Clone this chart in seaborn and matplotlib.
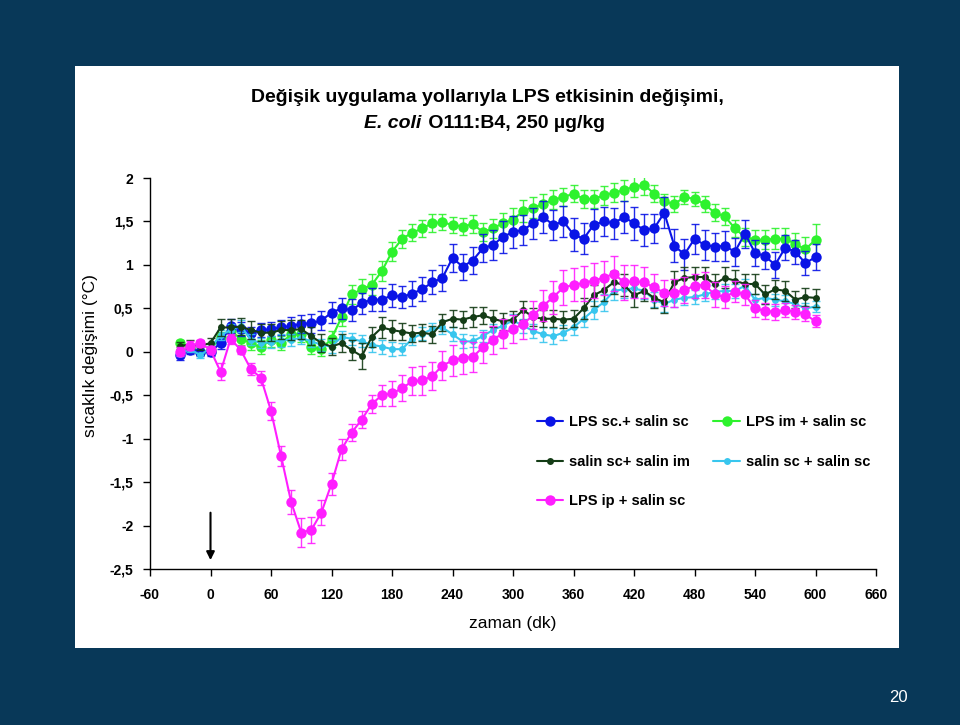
import numpy as np
import pandas as pd
import matplotlib
matplotlib.use("Agg")
import matplotlib.pyplot as plt
from matplotlib.patches import Rectangle
import seaborn as sns

sns.set_style("ticks")
plt.rcParams['font.family'] = ['Liberation Sans', 'DejaVu Sans']
plt.rcParams['text.color'] = 'black'
plt.rcParams['axes.labelcolor'] = 'black'
plt.rcParams['axes.unicode_minus'] = False

# sampling times (min)
zaman = list(range(-30, 610, 10))

# LPS sc.+ salin sc
lps_sc = [-0.04, 0.02, 0.0, 0.0, 0.1, 0.3, 0.26, 0.22,
          0.25, 0.26, 0.28, 0.3, 0.32, 0.33, 0.36, 0.45,
          0.5, 0.48, 0.56, 0.6, 0.6, 0.65, 0.63, 0.67,
          0.72, 0.8, 0.85, 1.08, 0.98, 1.05, 1.19, 1.23,
          1.32, 1.38, 1.4, 1.48, 1.55, 1.46, 1.5, 1.35,
          1.3, 1.46, 1.5, 1.48, 1.55, 1.48, 1.4, 1.42,
          1.6, 1.22, 1.12, 1.3, 1.23, 1.21, 1.22, 1.15,
          1.36, 1.14, 1.1, 1.0, 1.2, 1.15, 1.02, 1.09]
lps_sc_err = [0.05, 0.05, 0.05, 0.05, 0.07, 0.08, 0.08, 0.07,
              0.08, 0.08, 0.09, 0.1, 0.1, 0.11, 0.11, 0.12,
              0.12, 0.13, 0.12, 0.13, 0.13, 0.13, 0.13, 0.14,
              0.14, 0.14, 0.15, 0.16, 0.15, 0.16, 0.16, 0.17,
              0.18, 0.18, 0.17, 0.18, 0.18, 0.17, 0.18, 0.19,
              0.18, 0.18, 0.17, 0.18, 0.18, 0.19, 0.18, 0.17,
              0.18, 0.19, 0.18, 0.17, 0.17, 0.16, 0.17, 0.16,
              0.16, 0.15, 0.15, 0.15, 0.14, 0.14, 0.14, 0.15]

# LPS im + salin sc
lps_im = [0.1, 0.05, 0.0, 0.02, 0.17, 0.24, 0.15, 0.1,
          0.05, 0.14, 0.1, 0.2, 0.2, 0.05, 0.03, 0.15,
          0.4, 0.66, 0.72, 0.77, 0.93, 1.15, 1.3, 1.37,
          1.42, 1.48, 1.49, 1.46, 1.44, 1.47, 1.38, 1.42,
          1.48, 1.52, 1.62, 1.66, 1.7, 1.75, 1.78, 1.82,
          1.76, 1.76, 1.8, 1.83, 1.86, 1.9, 1.92, 1.82,
          1.73, 1.7, 1.78, 1.76, 1.7, 1.6, 1.56, 1.42,
          1.32, 1.29, 1.29, 1.3, 1.3, 1.24, 1.18, 1.29]
lps_im_err = [0.04, 0.04, 0.04, 0.05, 0.06, 0.07, 0.07, 0.08,
              0.08, 0.08, 0.08, 0.08, 0.09, 0.08, 0.08, 0.09,
              0.1, 0.11, 0.12, 0.12, 0.12, 0.11, 0.1, 0.1,
              0.1, 0.1, 0.09, 0.09, 0.1, 0.1, 0.1, 0.11,
              0.12, 0.13, 0.13, 0.12, 0.12, 0.11, 0.1, 0.1,
              0.1, 0.1, 0.11, 0.11, 0.12, 0.12, 0.12, 0.1,
              0.09, 0.09, 0.08, 0.08, 0.09, 0.1, 0.1, 0.1,
              0.1, 0.11, 0.11, 0.12, 0.12, 0.13, 0.14, 0.18]

# salin sc+ salin im
salin_im = [0.07, 0.08, 0.07, 0.1, 0.28, 0.28, 0.29, 0.25,
            0.22, 0.22, 0.25, 0.25, 0.26, 0.18, 0.1, 0.06,
            0.1, 0.02, -0.05, 0.17, 0.28, 0.25, 0.23, 0.21,
            0.22, 0.2, 0.34, 0.38, 0.37, 0.4, 0.42, 0.38,
            0.35, 0.37, 0.48, 0.4, 0.38, 0.38, 0.37, 0.38,
            0.5, 0.65, 0.71, 0.8, 0.77, 0.65, 0.7, 0.62,
            0.57, 0.8, 0.85, 0.86, 0.86, 0.78, 0.85, 0.82,
            0.78, 0.78, 0.66, 0.72, 0.7, 0.6, 0.63, 0.62]
salin_im_err = [0.04, 0.05, 0.05, 0.06, 0.1, 0.1, 0.1, 0.1,
                0.1, 0.1, 0.1, 0.11, 0.11, 0.1, 0.1, 0.1,
                0.1, 0.12, 0.15, 0.12, 0.12, 0.11, 0.1, 0.1,
                0.1, 0.1, 0.1, 0.1, 0.1, 0.11, 0.1, 0.1,
                0.1, 0.1, 0.11, 0.1, 0.1, 0.1, 0.1, 0.1,
                0.12, 0.12, 0.12, 0.13, 0.13, 0.13, 0.12, 0.12,
                0.12, 0.13, 0.13, 0.12, 0.12, 0.12, 0.12, 0.12,
                0.12, 0.12, 0.11, 0.11, 0.11, 0.1, 0.1, 0.1]

# salin sc + salin sc
salin_sc = [-0.02, 0.03, -0.04, 0.05, 0.19, 0.25, 0.3, 0.14,
            0.1, 0.11, 0.13, 0.14, 0.16, 0.12, 0.08, 0.06,
            0.17, 0.15, 0.12, 0.08, 0.06, 0.03, 0.03, 0.15,
            0.21, 0.26, 0.28, 0.2, 0.12, 0.12, 0.18, 0.25,
            0.3, 0.36, 0.3, 0.24, 0.2, 0.18, 0.22, 0.28,
            0.38, 0.48, 0.57, 0.7, 0.72, 0.73, 0.7, 0.6,
            0.55, 0.6, 0.62, 0.63, 0.66, 0.69, 0.7, 0.7,
            0.76, 0.6, 0.62, 0.6, 0.58, 0.55, 0.5, 0.52]
salin_sc_err = [0.03, 0.03, 0.03, 0.04, 0.06, 0.07, 0.07, 0.06,
                0.06, 0.07, 0.07, 0.07, 0.07, 0.07, 0.07, 0.07,
                0.07, 0.07, 0.07, 0.08, 0.08, 0.08, 0.07, 0.07,
                0.07, 0.07, 0.08, 0.08, 0.08, 0.07, 0.07, 0.07,
                0.07, 0.08, 0.08, 0.08, 0.09, 0.09, 0.09, 0.09,
                0.1, 0.1, 0.1, 0.1, 0.1, 0.1, 0.09, 0.09,
                0.09, 0.08, 0.08, 0.08, 0.08, 0.08, 0.08, 0.08,
                0.08, 0.07, 0.07, 0.07, 0.07, 0.06, 0.06, 0.06]

# LPS ip + salin sc
lps_ip = [0.0, 0.07, 0.1, 0.02, -0.23, 0.15, 0.02, -0.2,
          -0.3, -0.68, -1.2, -1.73, -2.08, -2.05, -1.85, -1.52,
          -1.12, -0.93, -0.78, -0.6, -0.5, -0.48, -0.42, -0.34,
          -0.33, -0.28, -0.16, -0.1, -0.07, -0.06, 0.05, 0.14,
          0.21, 0.26, 0.32, 0.42, 0.53, 0.63, 0.74, 0.77,
          0.79, 0.82, 0.85, 0.9, 0.8, 0.81, 0.8, 0.74,
          0.68, 0.68, 0.71, 0.76, 0.77, 0.66, 0.63, 0.69,
          0.66, 0.5, 0.47, 0.46, 0.48, 0.46, 0.43, 0.35]
lps_ip_err = [0.05, 0.05, 0.04, 0.05, 0.1, 0.06, 0.05, 0.07,
              0.08, 0.1, 0.12, 0.14, 0.17, 0.15, 0.14, 0.13,
              0.12, 0.1, 0.1, 0.1, 0.12, 0.14, 0.15, 0.16,
              0.17, 0.16, 0.17, 0.18, 0.19, 0.17, 0.18, 0.16,
              0.17, 0.16, 0.17, 0.16, 0.18, 0.19, 0.2, 0.19,
              0.2, 0.2, 0.2, 0.2, 0.2, 0.19, 0.18, 0.16,
              0.15, 0.16, 0.15, 0.14, 0.15, 0.14, 0.13, 0.12,
              0.12, 0.1, 0.09, 0.09, 0.08, 0.08, 0.08, 0.07]

# name, values, errors, colour, marker size
series = [
    ("LPS im + salin sc", lps_im, lps_im_err, "#2EF22E", 7.5),
    ("LPS sc.+ salin sc", lps_sc, lps_sc_err, "#0A14E6", 7.5),
    ("salin sc + salin sc", salin_sc, salin_sc_err, "#38C6EE", 5),
    ("salin sc+ salin im", salin_im, salin_im_err, "#143C16", 5),
    ("LPS ip + salin sc", lps_ip, lps_ip_err, "#FF1EFF", 7.5),
]

fig = plt.figure(figsize=(9.6, 7.25), dpi=100, facecolor="#083858")
# white slide panel, behind everything
fig.patches.append(Rectangle((75 / 960, 1 - 648 / 725), 824 / 960, 582 / 725,
                             transform=fig.transFigure, facecolor="white",
                             edgecolor="none", zorder=-10))

ax = fig.add_axes([150 / 960, 1 - 569 / 725, 726 / 960, 391 / 725])
ax.set_facecolor("white")
ax.set_zorder(1)

for name, vals, errs, col, ms in series:
    ax.errorbar(zaman, vals, yerr=errs, fmt="none", ecolor=col,
                elinewidth=1.0, capsize=3, capthick=1.0, alpha=0.9)
    df = pd.DataFrame({"zaman": zaman, "deger": vals})
    sns.lineplot(data=df, x="zaman", y="deger", ax=ax, color=col,
                 marker="o", markersize=ms, markeredgewidth=0,
                 linewidth=1.5, label=name)

ax.set_xlim(-60, 660)
ax.set_ylim(-2.5, 2)
ax.set_xticks(range(-60, 661, 60))
ax.set_yticks(np.arange(-2.5, 2.01, 0.5))
ax.set_yticklabels([("%g" % v).replace(".", ",") for v in np.arange(-2.5, 2.01, 0.5)])
ax.tick_params(direction="out", length=5, width=1, labelsize=10,
               colors="black")
ax.tick_params(axis="x", pad=9)
ax.tick_params(axis="y", pad=7)
for lab in ax.get_xticklabels() + ax.get_yticklabels():
    lab.set_fontweight("bold")
sns.despine(ax=ax)
for s in ["left", "bottom"]:
    ax.spines[s].set_color("black")
    ax.spines[s].set_linewidth(1)

ax.set_xlabel("zaman (dk)", fontsize=12.5, labelpad=10)
ax.set_ylabel("sıcaklık değişimi (°C)", fontsize=12.5)
ax.yaxis.set_label_coords(-0.072, 0.547)

# injection arrow
ax.annotate("", xy=(0, -2.43), xytext=(0, -1.82),
            arrowprops=dict(arrowstyle="-|>", color="black", lw=1.5, mutation_scale=12))

# legend: column 1 blue/darkgreen/magenta, column 2 green/cyan
h, l = ax.get_legend_handles_labels()
lookup = dict(zip(l, h))
order = ["LPS sc.+ salin sc", "salin sc+ salin im", "LPS ip + salin sc",
         "LPS im + salin sc", "salin sc + salin sc"]
leg = ax.legend([lookup[o] for o in order], order, ncol=2, frameon=False,
                loc="upper left", bbox_to_anchor=(524 / 960, 1 - 402 / 725),
                bbox_transform=fig.transFigure, prop={"weight": "bold", "size": 10.5},
                labelspacing=1.75, handlelength=1.8, handletextpad=0.4,
                columnspacing=1.6)

# title
fig.text(487 / 960, 1 - 97 / 725, "Değişik uygulama yollarıyla LPS etkisinin değişimi,",
         ha="center", va="center", fontsize=14, fontweight="bold")
fig.text(421 / 960, 1 - 123 / 725, "E. coli", ha="right", va="center",
         fontsize=14, fontweight="bold", style="italic")
fig.text(423 / 960, 1 - 123 / 725, " O111:B4, 250 µg/kg", ha="left", va="center",
         fontsize=14, fontweight="bold")

# slide number
fig.text(898 / 960, 1 - 698 / 725, "20", ha="center", va="center",
         fontsize=12, color="white")

fig.savefig("out.png", dpi=100, facecolor=fig.get_facecolor())
